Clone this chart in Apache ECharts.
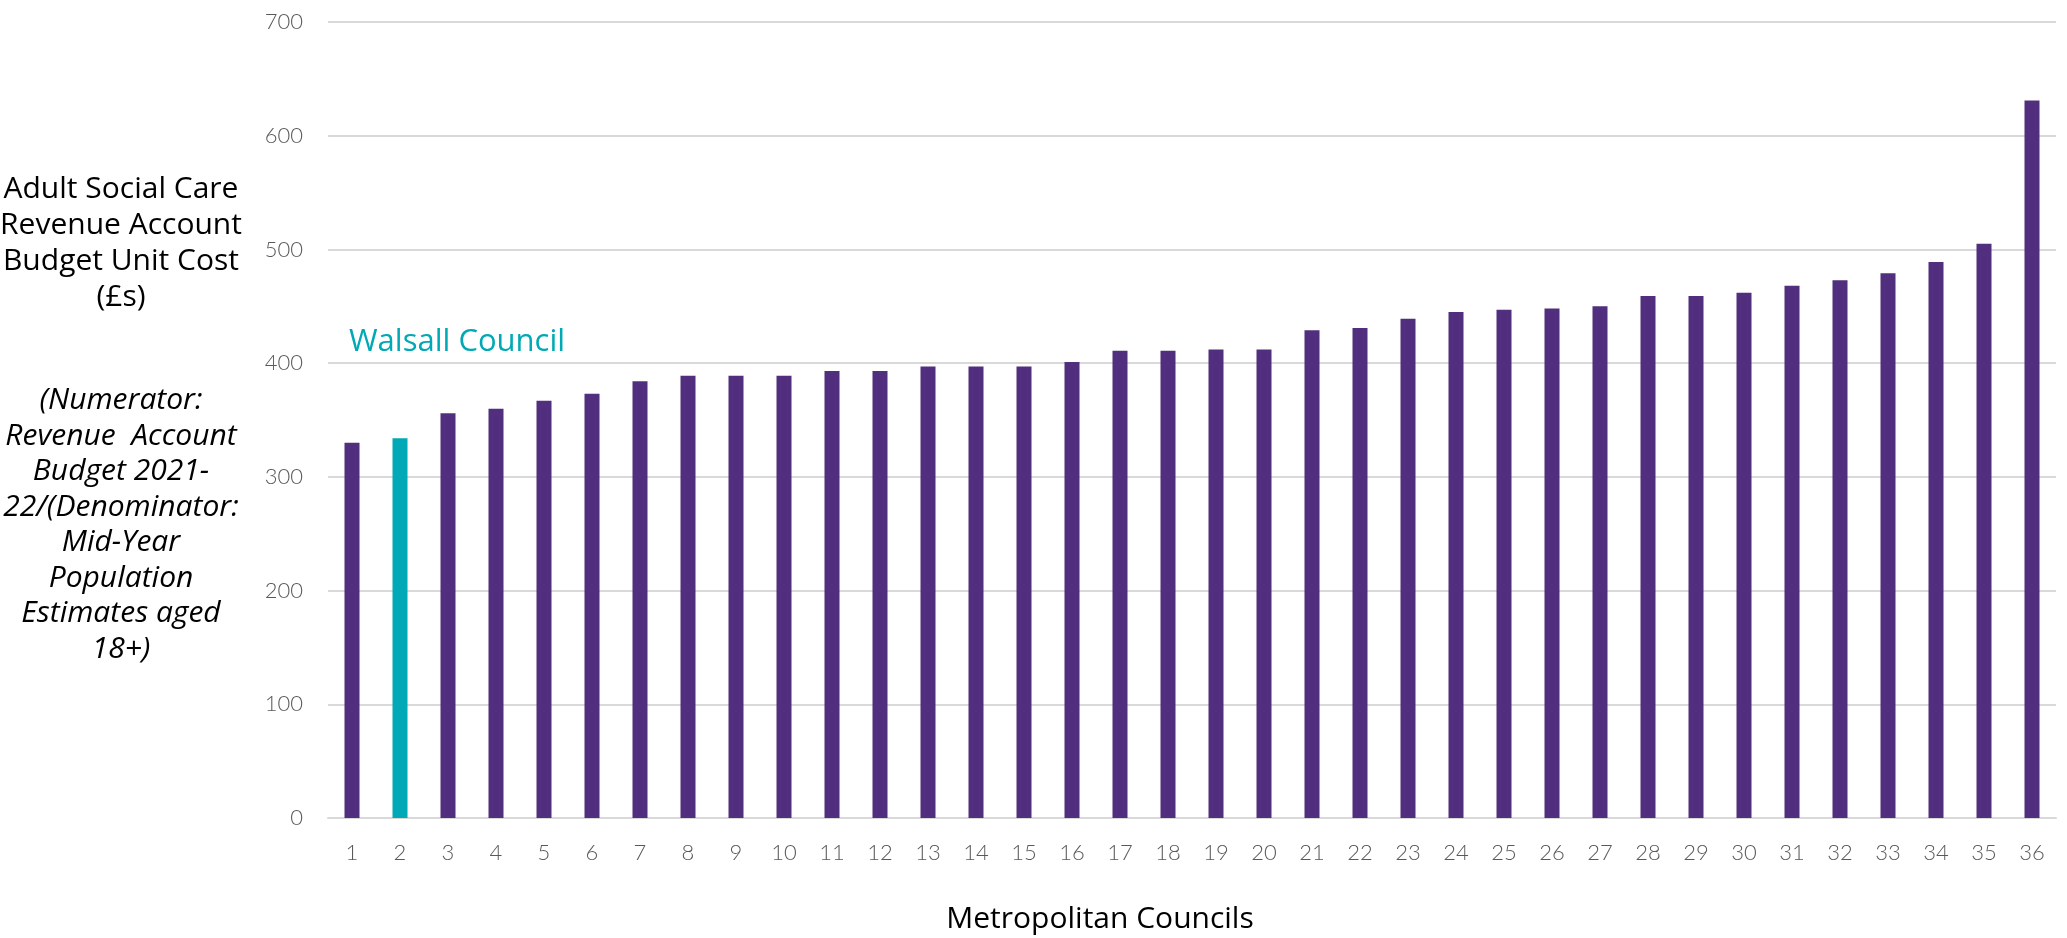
<!DOCTYPE html>
<html>
<head>
<meta charset="utf-8">
<script src="https://cdn.jsdelivr.net/npm/echarts@6/dist/echarts.min.js"></script>
<style>
html,body{margin:0;padding:0;background:#fff;}
#chart{width:2067px;height:938px;}
</style>
</head>
<body>
<div id="chart"></div>
<script>
const categories = ['1','2','3','4','5','6','7','8','9','10','11','12','13','14','15','16','17','18','19','20','21','22','23','24','25','26','27','28','29','30','31','32','33','34','35','36'];
const values = [330, 334, 356, 360, 367, 373, 384, 389, 389, 389, 393, 393, 397, 397, 397, 401, 411, 411, 412, 412, 429, 431, 439, 445, 447, 448, 450, 459, 459, 462, 468, 473, 479, 489, 505, 631];
const highlightIndex = 1;
const yTitleMain = ['Adult Social Care', 'Revenue Account', 'Budget Unit Cost', '(£s)'];
const yTitleNote = ['(Numerator:', 'Revenue  Account', 'Budget 2021-', '22/(Denominator:', 'Mid-Year', 'Population', 'Estimates aged', '18+)'];
const xTitle = 'Metropolitan Councils';
const annotation = 'Walsall Council';

const PURPLE = '#512f7e';
const TEAL = '#00a9b5';
const FONT = 'Lato, "Open Sans", sans-serif';
const TFONT = '"Open Sans", Lato, sans-serif';

const chart = echarts.init(document.getElementById('chart'));
chart.setOption({
  animation: false,
  backgroundColor: '#ffffff',
  grid: { left: 328, right: 11, top: 22, bottom: 120, containLabel: false },
  xAxis: {
    type: 'category',
    data: categories,
    axisLine: { lineStyle: { color: '#d9d9d9', width: 2 } },
    axisTick: { show: false },
    axisLabel: { color: '#595959', fontSize: 22, fontWeight: 300, fontFamily: FONT, margin: 24, interval: 0 }
  },
  yAxis: {
    type: 'value',
    min: 0, max: 700, interval: 100,
    axisLine: { show: false },
    axisTick: { show: false },
    splitLine: { lineStyle: { color: '#d9d9d9', width: 2 } },
    axisLabel: { color: '#595959', fontSize: 22, fontWeight: 300, fontFamily: FONT, margin: 25 }
  },
  series: [{
    type: 'bar',
    barWidth: 15,
    data: values.map((v, i) => ({ value: v, itemStyle: { color: i === highlightIndex ? TEAL : PURPLE } }))
  }],
  graphic: [
    {
      type: 'text',
      x: 121, y: 171,
      style: { text: yTitleMain.join('\n'), fill: '#000', font: '30px ' + TFONT, lineHeight: 36, align: 'center' }
    },
    {
      type: 'text',
      x: 121, y: 383,
      style: { text: yTitleNote.join('\n'), fill: '#000', font: 'italic 30px ' + TFONT, lineHeight: 35.5, align: 'center' }
    },
    {
      type: 'text',
      x: 349, y: 327,
      style: { text: annotation, fill: TEAL, font: '31px ' + TFONT }
    },
    {
      type: 'text',
      x: 1100, y: 904,
      style: { text: xTitle, fill: '#000', font: '30px ' + TFONT, align: 'center' }
    }
  ]
});
</script>
</body>
</html>
